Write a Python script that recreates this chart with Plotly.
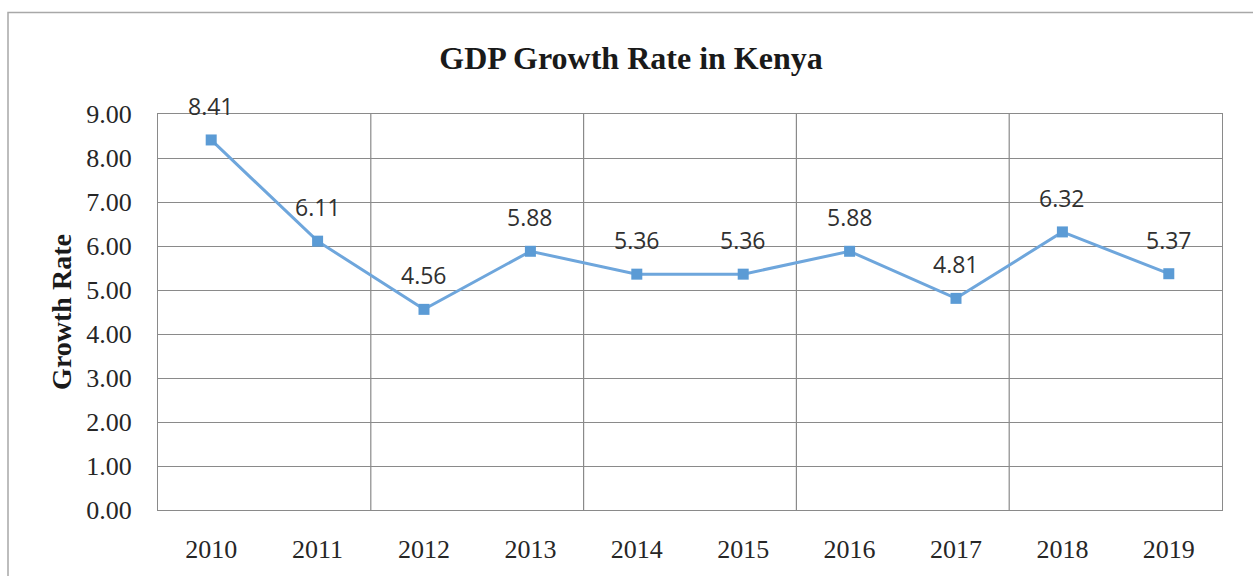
import plotly.graph_objects as go

# GDP growth in Kenya, 2010-2019
years = ["2010", "2011", "2012", "2013", "2014", "2015", "2016", "2017", "2018", "2019"]
growth = [8.41, 6.11, 4.56, 5.88, 5.36, 5.36, 5.88, 4.81, 6.32, 5.37]
y_ticks = [0, 1, 2, 3, 4, 5, 6, 7, 8, 9]

idx = list(range(len(years)))

W, H = 1253, 576
L, R, T, B = 158, 31, 114, 60
plot_w = W - L - R
plot_h = H - T - B

GRID = "#8a8a8a"
SERIF = "Liberation Serif, Times New Roman, serif"
SANS = "Open Sans, Noto Sans, sans-serif"

fig = go.Figure()
fig.add_trace(go.Scatter(
    x=idx, y=growth, mode="lines+markers",
    line=dict(color="#6ea6dc", width=3),
    marker=dict(symbol="square", size=11, color="#5b9bd5"),
    hoverinfo="skip", showlegend=False,
))

# value labels above each point
for i, v in zip(idx, growth):
    fig.add_annotation(x=i, y=v, text=f"{v:.2f}", showarrow=False,
                       yshift=34, yanchor="middle",
                       font=dict(family=SANS, size=23, color="#303030"))

# vertical gridlines between every second category
for b in [1.5, 3.5, 5.5, 7.5]:
    fig.add_shape(type="line", xref="x", yref="paper", x0=b, x1=b, y0=0, y1=1,
                  line=dict(color=GRID, width=1.2), layer="below")

# outer chart border
px2x = lambda px: (px - L) / plot_w
px2y = lambda py: (H - B - py) / plot_h
fig.add_shape(type="rect", xref="paper", yref="paper",
              x0=px2x(8), x1=px2x(1262), y0=px2y(590), y1=px2y(11),
              line=dict(color="#a8a8a8", width=1.5), fillcolor="rgba(0,0,0,0)")

fig.update_layout(
    width=W, height=H,
    margin=dict(l=L, r=R, t=T, b=B),
    paper_bgcolor="white", plot_bgcolor="white",
    title=dict(text="<b>GDP Growth Rate in Kenya</b>",
               x=(631 - L) / plot_w, xref="paper", xanchor="center",
               y=1 - 58 / H, yanchor="middle",
               font=dict(family=SERIF, size=32, color="#1a1a1a")),
    xaxis=dict(range=[-0.5, len(years) - 0.5], tickmode="array",
               tickvals=idx, ticktext=years, showgrid=False, zeroline=False,
               showline=True, linecolor=GRID, linewidth=1.2, mirror=True,
               ticks="", ticklabelstandoff=16,
               tickfont=dict(family=SERIF, size=26, color="#262626")),
    yaxis=dict(range=[0, 9], tickmode="array", tickvals=y_ticks,
               ticktext=[f"{t:.2f}" for t in y_ticks],
               showgrid=True, gridcolor=GRID, gridwidth=1.2, zeroline=False,
               showline=True, linecolor=GRID, linewidth=1.2, mirror=True,
               ticks="", ticklabelstandoff=20,
               tickfont=dict(family=SERIF, size=26, color="#262626"),
               title=dict(text="<b>Growth Rate</b>", standoff=6,
                          font=dict(family=SERIF, size=28, color="#1a1a1a"))),
)

fig.write_html("out.html")
